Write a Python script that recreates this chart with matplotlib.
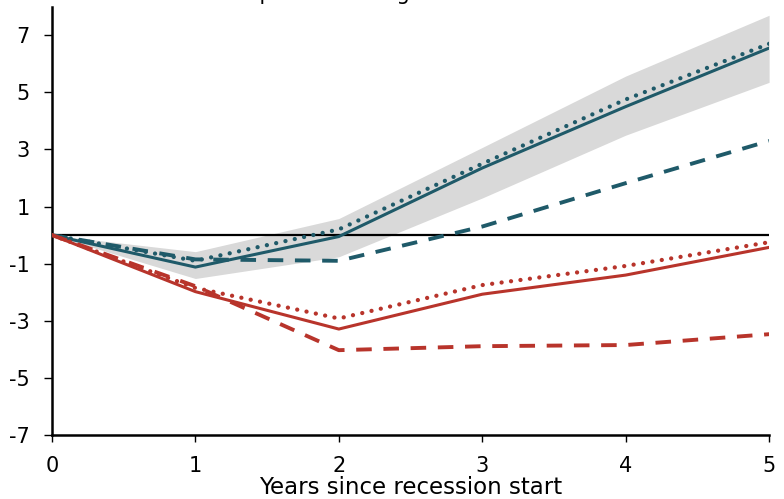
import matplotlib
matplotlib.use("Agg")
import matplotlib.pyplot as plt

years = [0, 1, 2, 3, 4, 5]

# teal group
teal_solid = [0.0, -1.12, -0.05, 2.35, 4.5, 6.55]
teal_dotted = [0.0, -0.9, 0.2, 2.5, 4.75, 6.7]
teal_dashed = [0.0, -0.85, -0.9, 0.3, 1.82, 3.3]
band_low = [0.0, -1.52, -0.76, 1.3, 3.5, 5.35]
band_high = [0.0, -0.58, 0.58, 3.07, 5.57, 7.7]

# red group
red_solid = [0.0, -1.98, -3.29, -2.07, -1.4, -0.43]
red_dotted = [0.0, -1.85, -2.92, -1.75, -1.08, -0.25]
red_dashed = [0.0, -1.79, -4.03, -3.89, -3.85, -3.47]

yticks = [-7, -5, -3, -1, 1, 3, 5, 7]

TEAL = "#1f5a69"
RED = "#b8342b"

fig = plt.figure(figsize=(7.84, 4.99), dpi=100)
ax = fig.add_axes([0.0663, 0.1283, 0.9147, 0.8583])

ax.fill_between(years, band_low, band_high, color="#d9d9d9", lw=0, zorder=1)
ax.axhline(0, color="black", lw=1.6, zorder=2)

ax.plot(years, teal_solid, color=TEAL, lw=2.2, zorder=4)
ax.plot(years, teal_dotted, color=TEAL, lw=3.1, dashes=(0.01, 2.2),
        dash_capstyle="round", zorder=4)
ax.plot(years, teal_dashed, color=TEAL, lw=2.8, dashes=(4.0, 3.0), zorder=4)

ax.plot(years, red_solid, color=RED, lw=2.2, zorder=4)
ax.plot(years, red_dotted, color=RED, lw=3.1, dashes=(0.01, 2.2),
        dash_capstyle="round", zorder=4)
ax.plot(years, red_dashed, color=RED, lw=2.8, dashes=(4.0, 3.0), zorder=4)

ax.set_xlim(0, 5)
ax.set_ylim(-7, 8)
ax.set_yticks(yticks)
ax.set_yticklabels([str(v) for v in yticks], fontsize=15)
ax.set_xticks(years)
ax.set_xticklabels([str(v) for v in years], fontsize=15)
ax.set_xlabel("Years since recession start", fontsize=16.5, labelpad=0)
ax.tick_params(axis="y", direction="out", length=6, width=1, pad=10)
ax.tick_params(axis="x", direction="out", length=5, width=1, pad=10)
for s in ["top", "right"]:
    ax.spines[s].set_visible(False)
ax.spines["left"].set_linewidth(1.8)
ax.spines["bottom"].set_linewidth(1.8)

# header text, mostly cut off above the figure edge (as in the source)
fig.text(0.355, 1.0, "Cumulative percent change", fontsize=15, ha="center",
         va="baseline")

fig.savefig("out.png", dpi=100)
